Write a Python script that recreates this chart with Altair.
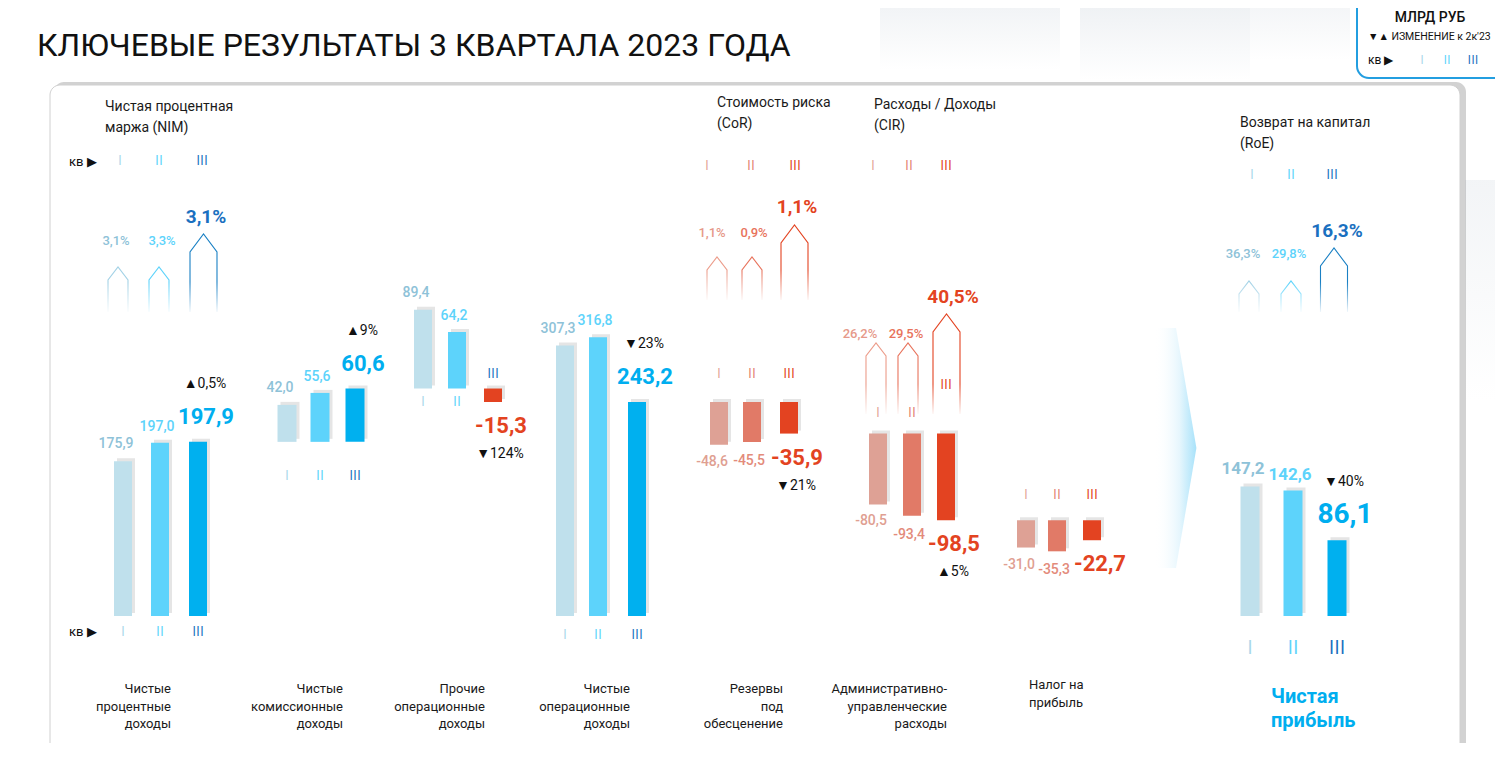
import altair as alt
import pandas as pd

# ------------------------------------------------------------------ data
TITLE = "КЛЮЧЕВЫЕ РЕЗУЛЬТАТЫ 3 КВАРТАЛА 2023 ГОДА"
UNIT = "МЛРД РУБ"
CHANGE_NOTE = "▼▲ ИЗМЕНЕНИЕ к 2к'23"
QUARTERS = ["I", "II", "III"]
KV = "кв ▶"

CATEGORY_LINES = [
    ["Чистые", "процентные", "доходы"],
    ["Чистые", "комиссионные", "доходы"],
    ["Прочие", "операционные", "доходы"],
    ["Чистые", "операционные", "доходы"],
    ["Резервы", "под", "обесценение"],
    ["Административно-", "управленческие", "расходы"],
    ["Налог на", "прибыль"],
    ["Чистая", "прибыль"],
]
Q1 = [175.9, 42.0, 89.4, 307.3, -48.6, -80.5, -31.0, 147.2]
Q2 = [197.0, 55.6, 64.2, 316.8, -45.5, -93.4, -35.3, 142.6]
Q3 = [197.9, 60.6, -15.3, 243.2, -35.9, -98.5, -22.7, 86.1]
CHANGE_PCT = [0.5, 9, -124, -23, -21, 5, None, -40]
BAR_KIND = ["step", "step", "step", "total", "step", "step", "step", "total"]

RATIO_TITLES = [
    ["Чистая процентная", "маржа (NIM)"],
    ["Стоимость риска", "(CoR)"],
    ["Расходы / Доходы", "(CIR)"],
    ["Возврат на капитал", "(RoE)"],
]
NIM = [3.1, 3.3, 3.1]
COR = [1.1, 0.9, 1.1]
CIR = [26.2, 29.5, 40.5]
ROE = [36.3, 29.8, 16.3]
RATIO_VALUES = [NIM, COR, CIR, ROE]

# ------------------------------------------------------------------ layout / style
W, H = 1487, 735
K = 0.88          # px per bn RUB
ZERO_Y = 616      # page y of zero
FONT = "Roboto"
ROMAN_FONT = "Open Sans"
TITLE_FONT = "Roboto"

BAR_X = [[123, 160, 198], [287, 320, 355], [423, 457, 493], [565, 598, 637],
         [719, 752, 789], [878, 912, 946], [1026, 1057, 1092], [1250, 1293, 1337]]
BAR_W = [18, 19, 18, 18, 18, 18, 18, 19]
GROUP_THEME = ["blue", "blue", "blue", "blue", "red", "red", "red", "blue"]
ROMAN_OFF = [[16, 16, 16], [34, 34, 34], [13, 13, -15], [19, 19, 19],
             [-28, -28, -28], [-21, -21, -49], [-25, -25, -25], [32, 32, 32]]
LABEL_DX = [-7, -3, 8]
LABEL_DY_POS = [-17, -16, -25]
LABEL_DY_NEG = [17, 19, 24]

BLUE = ["#bfe0ec", "#5dd3fb", "#00b0ef"]
BLUE_LABEL = ["#8ec2d8", "#5dd3fb", "#00aeef"]
RED = ["#dea195", "#e17a67", "#e34321"]
RED_LABEL = ["#df9f92", "#e38b7b", "#e34321"]
ROMAN_BLUE = ["#a9d7ea", "#5dd3fb", "#1a70c0"]
ROMAN_RED = ["#e4a596", "#e48371", "#e34321"]
HOUSE_BLUE = ["#a3d2e6", "#5dd3fb", "#1a80c4"]
HOUSE_RED = ["#ec9c8a", "#e8735c", "#e34321"]
RLABEL_BLUE = ["#8ec2d8", "#5dd3fb", "#1a70c0"]
RLABEL_RED = ["#e6998a", "#e8735c", "#e34321"]
RATIO_THEME = ["blue", "red", "red", "blue"]

RATIO_TITLE_POS = [(105, 107), (717, 103), (874, 105), (1240, 123)]
RATIO_ROMAN_X = [[120, 159, 202], [707, 751, 795], [873, 909, 946], [1252, 1291, 1332]]
RATIO_ROMAN_Y = [161, 166, 166, 175]
RATIO_LABEL_X = [[116, 162, 206], [712, 754, 797], [860, 906, 953], [1243, 1289, 1337]]
RATIO_LABEL_Y = [[241, 241, 217], [233, 233, 207], [334, 334, 297], [254, 254, 231]]
HOUSE_X = [[118, 159, 203.5], [717, 752, 794.5], [876, 908, 946.5], [1249, 1291, 1334]]
HOUSE_TOP = [[267, 267, 234], [257, 257, 225], [343, 343, 314], [281, 281, 248]]
HOUSE_BOTTOM = [312, 300, 414, 312]
CAT_RIGHT = [171, 343, 485, 630, 783, 947]


def pv(py):
    """page y -> value units of the shared y scale"""
    return (ZERO_Y - py) / K


X_SCALE = alt.Scale(domain=[8, 8 + W], range=[0, W], nice=False, zero=False)
Y_SCALE = alt.Scale(domain=[pv(8 + H), pv(8)], nice=False, zero=False)


def X(f):
    return alt.X(f, type="quantitative", scale=X_SCALE, axis=None)


def Y(f):
    return alt.Y(f, type="quantitative", scale=Y_SCALE, axis=None)


def fmt(v):
    return f"{v:.1f}".replace(".", ",")


# ------------------------------------------------------------------ bars (waterfall)
bar_rows, text_rows = [], []


def add_text(text, x, y, size, color="#1a1a1a", weight="normal", align="center", font=FONT):
    text_rows.append(dict(text=text, x=x, y=y, size=size, color=color,
                          weight=str(weight), align=align, font=font))


series = [Q1, Q2, Q3]
running = 0.0
for g in range(len(Q3)):
    base = 0.0 if BAR_KIND[g] == "total" else running
    for q in range(3):
        v = series[q][g]
        end = base + v
        pos = v >= 0
        bar_rows.append(dict(x=BAR_X[g][q] - BAR_W[g] / 2, x2=BAR_X[g][q] + BAR_W[g] / 2,
                             y=base, y2=end, color=(BLUE if pos else RED)[q]))
        dy = (LABEL_DY_POS if pos else LABEL_DY_NEG)[q]
        if g == 7:
            size = [17, 17, 28][q]
            weight = "bold"
        else:
            size = [14, 14, 22][q]
            weight = "bold" if q == 2 else "500"
        add_text(fmt(v), BAR_X[g][q] + LABEL_DX[q], end - dy / K, size,
                 (BLUE_LABEL if pos else RED_LABEL)[q], weight)
        rcol = (ROMAN_BLUE if GROUP_THEME[g] == "blue" else ROMAN_RED)[q]
        add_text(QUARTERS[q], BAR_X[g][q], base - ROMAN_OFF[g][q] / K,
                 20 if g == 7 else 14, rcol, "normal", "center", ROMAN_FONT)
    c = CHANGE_PCT[g]
    if c is not None:
        v3 = Q3[g]
        end3 = base + v3
        dy = -58 if v3 >= 0 else 52
        arrow = "▲" if c > 0 else "▼"
        add_text(f"{arrow}{fmt(abs(c)).replace(',0', '')}%", BAR_X[g][2] + 7, end3 - dy / K, 14, "#111111")
    running = base + Q3[g]

bars = pd.DataFrame(bar_rows)

# ------------------------------------------------------------------ ratio houses
house_rows, fade_rows = [], []
for r in range(4):
    theme_h = HOUSE_BLUE if RATIO_THEME[r] == "blue" else HOUSE_RED
    theme_l = RLABEL_BLUE if RATIO_THEME[r] == "blue" else RLABEL_RED
    theme_n = ROMAN_BLUE if RATIO_THEME[r] == "blue" else ROMAN_RED
    for q in range(3):
        top = HOUSE_TOP[r][q]
        h = HOUSE_BOTTOM[r] - top
        w = 27 if q == 2 else 20
        s = 18 if q == 2 else 13
        hx = w / h
        sy = -1 + 2 * s / h
        path = f"M{-hx:.3f},1L{-hx:.3f},{sy:.3f}L0,-1L{hx:.3f},{sy:.3f}L{hx:.3f},1"
        house_rows.append(dict(x=HOUSE_X[r][q], y=pv(top + h / 2), path=path, sz=h * h, color=theme_h[q]))
        add_text(fmt(RATIO_VALUES[r][q]) + "%", RATIO_LABEL_X[r][q], pv(RATIO_LABEL_Y[r][q]),
                 19 if q == 2 else 13, theme_l[q], "bold" if q == 2 else "500")
        add_text(QUARTERS[q], RATIO_ROMAN_X[r][q], pv(RATIO_ROMAN_Y[r]), 14, theme_n[q],
                 "normal", "center", ROMAN_FONT)
    fade_rows.append(dict(x=HOUSE_X[r][0] - 20, x2=HOUSE_X[r][2] + 20,
                          y=pv(HOUSE_BOTTOM[r] - 30), y2=pv(HOUSE_BOTTOM[r] + 2)))
    tx, ty = RATIO_TITLE_POS[r]
    for i, line in enumerate(RATIO_TITLES[r]):
        add_text(line, tx, pv(ty + 21 * i), 14, "#1a1a1a", "normal", "left")

houses = pd.DataFrame(house_rows)
fades = pd.DataFrame(fade_rows)

# ------------------------------------------------------------------ static texts
add_text(TITLE, 37, pv(46), 32, "#111111", "normal", "left", TITLE_FONT)
add_text(UNIT, 1430, pv(18), 14, "#111111", "500", "center")
add_text(CHANGE_NOTE, 1368, pv(37), 10.5, "#111111", "normal", "left")
add_text(KV, 1368, pv(60), 12, "#111111", "normal", "left")
for q, lx in enumerate([1422, 1447, 1473]):
    add_text(QUARTERS[q], lx, pv(60), 13, ROMAN_BLUE[q], "normal", "center", ROMAN_FONT)
add_text(KV, 69, pv(162), 13, "#111111", "normal", "left")
add_text(KV, 69, pv(632), 13, "#111111", "normal", "left")

for g in range(6):
    for i, line in enumerate(CATEGORY_LINES[g]):
        add_text(line, CAT_RIGHT[g], pv(689 + 17.5 * i), 13, "#1a1a1a", "normal", "right")
for i, line in enumerate(CATEGORY_LINES[6]):
    add_text(line, 1029, pv(685 + 17.5 * i), 13, "#1a1a1a", "normal", "left")
for i, line in enumerate(CATEGORY_LINES[7]):
    add_text(line, 1271, pv(697 + 24 * i), 20, "#00aeef", "bold", "left")

texts = pd.DataFrame(text_rows)


# ------------------------------------------------------------------ decoration
def rect_df(x, x2, py, py2):
    return pd.DataFrame([dict(x=x, x2=x2, y=pv(py), y2=pv(py2))])


def rect_layer(df, **mark):
    return alt.Chart(df).mark_rect(**mark).encode(x=X("x"), x2=alt.X2("x2"), y=Y("y"), y2=alt.Y2("y2"))


fade_grad = alt.LinearGradient(gradient="linear", x1=0, y1=0, x2=0, y2=1, stops=[
    alt.GradientStop(color="rgba(255,255,255,0)", offset=0),
    alt.GradientStop(color="#ffffff", offset=1)])
cube_grad = alt.LinearGradient(gradient="linear", x1=0, y1=0, x2=0, y2=1, stops=[
    alt.GradientStop(color="#e6eaee", offset=0),
    alt.GradientStop(color="#ffffff", offset=1)])
chev_grad = alt.LinearGradient(gradient="linear", x1=0, y1=0, x2=1, y2=0, stops=[
    alt.GradientStop(color="rgba(255,255,255,0)", offset=0),
    alt.GradientStop(color="#e6f6fd", offset=0.6),
    alt.GradientStop(color="#a8e2fa", offset=1)])

layers = [
    rect_layer(rect_df(880, 1060, 0, 70), fill=cube_grad, opacity=0.6),
    rect_layer(rect_df(1080, 1250, 0, 80), fill=cube_grad, opacity=0.7),
    rect_layer(rect_df(1250, 1350, 0, 60), fill=cube_grad, opacity=0.5),
    rect_layer(rect_df(1465, 1520, 180, 400), fill=cube_grad, opacity=0.5),
    rect_layer(rect_df(54, 1466, 82, 800), fill="#9c9c9c", opacity=0.45, cornerRadius=10),
    rect_layer(rect_df(50, 1460, 85, 800), fill="#ffffff", stroke="#d0d0d0", strokeWidth=1, cornerRadius=10),
    rect_layer(rect_df(1357, 1530, -12, 78), fill="#ffffff", stroke="#239ee0", strokeWidth=2, cornerRadius=12),
    alt.Chart(pd.DataFrame([dict(x=1176, y=pv(448))])).mark_point(
        shape="M-0.18,-1L0,-1L0.17,0L0,1L-0.18,1Z", size=240 * 240, filled=True,
        fill=chev_grad, strokeWidth=0, opacity=1).encode(x=X("x"), y=Y("y")),
    alt.Chart(bars).mark_rect(fill="#8a8a8a", opacity=0.22, xOffset=3, x2Offset=3, yOffset=-3, y2Offset=-3)
    .encode(x=X("x"), x2=alt.X2("x2"), y=Y("y"), y2=alt.Y2("y2")),
    alt.Chart(bars).mark_rect().encode(
        x=X("x"), x2=alt.X2("x2"), y=Y("y"), y2=alt.Y2("y2"),
        color=alt.Color("color:N", scale=None)),
    alt.Chart(houses).mark_point(filled=False, strokeWidth=1.1, opacity=1).encode(
        x=X("x"), y=Y("y"), shape=alt.Shape("path:N", scale=None),
        size=alt.Size("sz:Q", scale=None), color=alt.Color("color:N", scale=None)),
    rect_layer(fades, fill=fade_grad),
]

for (wt, al, fn), sub in texts.groupby(["weight", "align", "font"], sort=False):
    weight = int(wt) if wt.isdigit() else wt
    layers.append(
        alt.Chart(sub).mark_text(align=al, baseline="middle", fontWeight=weight, font=fn).encode(
            x=X("x"), y=Y("y"), text="text:N",
            color=alt.Color("color:N", scale=None), size=alt.Size("size:Q", scale=None)))

chart = alt.layer(*layers).properties(
    width=W, height=H, padding=0, background="white",
    autosize=alt.AutoSizeParams(type="none"),
).configure_view(stroke=None)

chart.save("out.html", embed_options={"renderer": "svg", "actions": False})
